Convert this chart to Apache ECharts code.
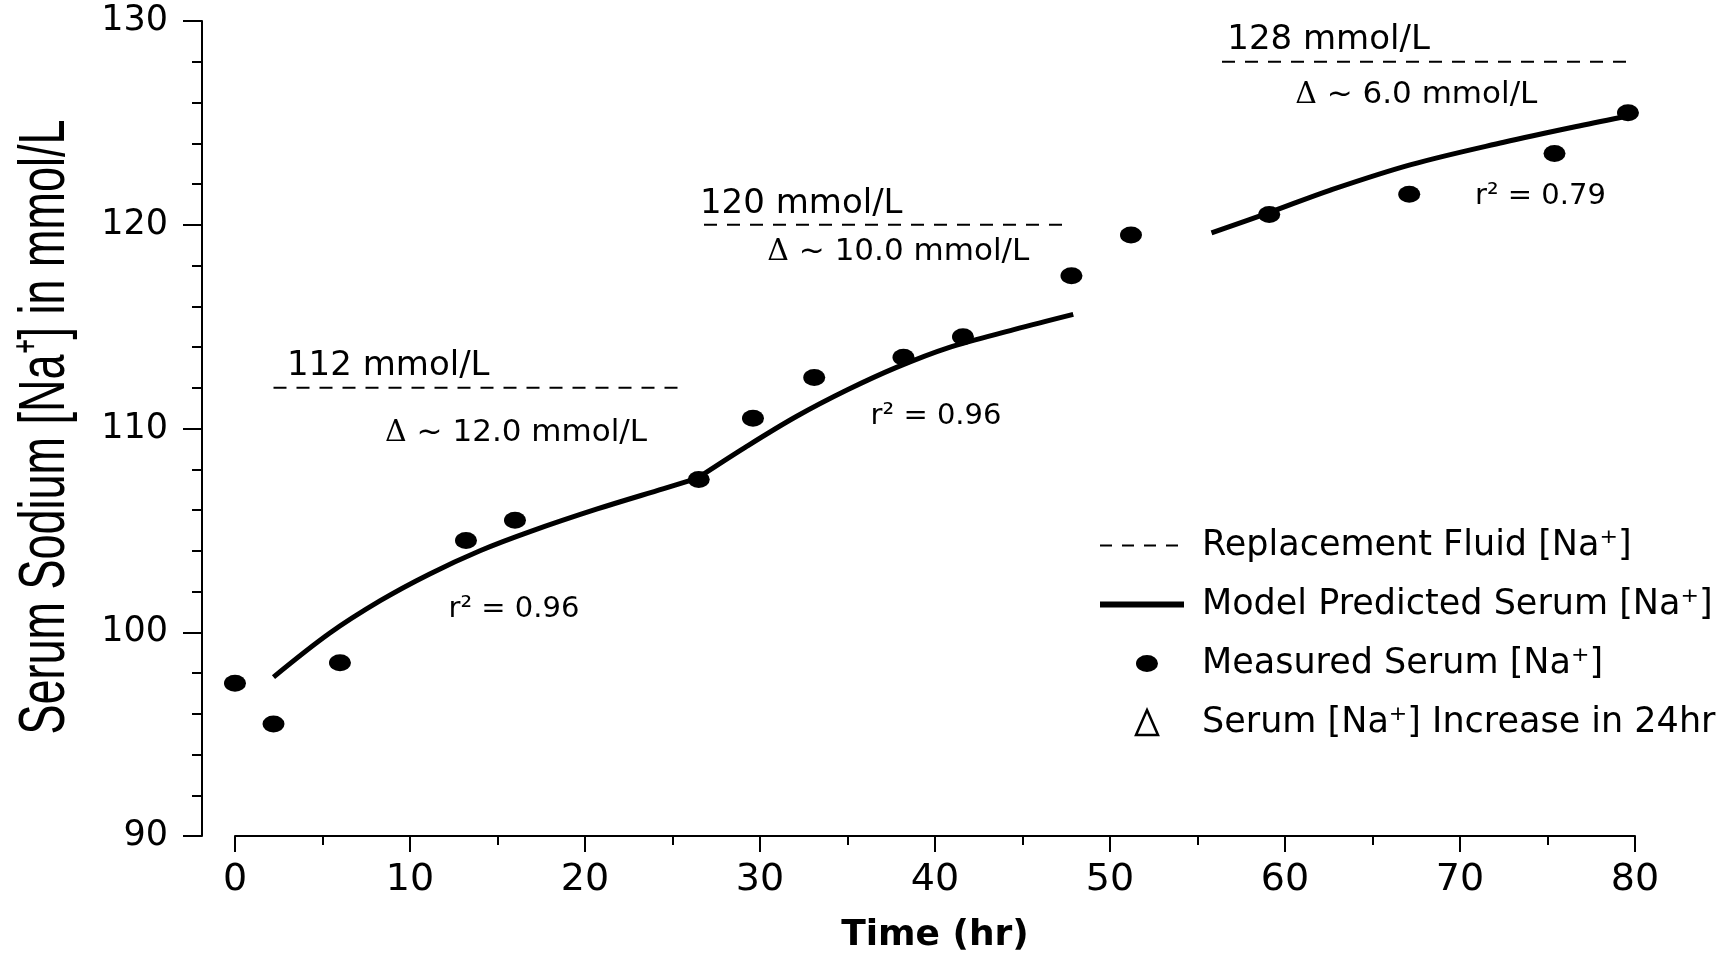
<!DOCTYPE html>
<html>
<head>
<meta charset="utf-8">
<title>Serum Sodium vs Time</title>
<script src="https://cdn.jsdelivr.net/npm/echarts@6.0.0/dist/echarts.min.js"></script>
<style>
html, body { margin: 0; padding: 0; background: #fff; }
#chart { width: 1723px; height: 953px; }
</style>
</head>
<body>
<div id="chart"></div>
<script>
// measured serum sodium
var measuredTime = [0, 2.2, 6, 13.2, 16, 26.5, 29.6, 33.1, 38.2, 41.6, 47.8, 51.2, 59.1, 67.1, 75.4, 79.6];
var measuredNa = [97.5, 95.5, 98.5, 104.5, 105.5, 107.5, 110.5, 112.5, 113.5, 114.5, 117.5, 119.5, 120.5, 121.5, 123.5, 125.5];

// model predicted serum sodium, one curve per replacement fluid
var model1Time = [2.2, 5.4, 8.3, 11.1, 14.0, 16.9, 20.7, 24.5, 26.4];
var model1Na = [97.8, 99.95, 101.55, 102.85, 104.0, 104.95, 106.05, 107.05, 107.55];
var model2Time = [26.4, 29.2, 32.1, 35.0, 37.8, 40.7, 44.5, 47.9];
var model2Na = [107.55, 109.1, 110.6, 111.9, 113.0, 113.95, 114.85, 115.6];
var model3Time = [55.8, 59.1, 62.6, 67.2, 72.5, 76.8, 79.7];
var model3Na = [119.6, 120.6, 121.7, 122.95, 124.05, 124.85, 125.35];

// replacement fluid sodium and the period it covers
var fluidNa = [112, 120, 128];
var fluidStart = [2.2, 26.8, 56.4];
var fluidEnd = [25.6, 47.6, 79.6];

// annotation texts
var fluidLabels = ['112 mmol/L', '120 mmol/L', '128 mmol/L'];
var deltaLabels = ['{d|Δ} ~ 12.0 mmol/L', '{d|Δ} ~ 10.0 mmol/L', '{d|Δ} ~ 6.0 mmol/L'];
var r2Labels = ['r² = 0.96', 'r² = 0.96', 'r² = 0.79'];

var legendNames = ['Replacement Fluid [Na⁺]', 'Model Predicted Serum [Na⁺]', 'Measured Serum [Na⁺]', 'Serum [Na⁺] Increase in 24hr'];

// where the annotations sit, in data units
var fluidLabelAt = [[2.97, 113.05], [26.57, 121.02], [56.7, 129.05]];
var deltaLabelAt = [[16.06, 109.78], [37.9, 118.65], [67.5, 126.35]];
var r2LabelAt = [[15.94, 101.1], [40.06, 110.57], [74.6, 121.4]];

function pairs(xs, ys) {
    return xs.map(function (x, i) { return [x, ys[i]]; });
}

var font = 'DejaVu Sans';
var ink = '#000';
var clear = 'rgba(0,0,0,0)';

var series = [];
fluidNa.forEach(function (v, i) {
    series.push({
        name: legendNames[0],
        type: 'line',
        symbol: 'none',
        silent: true,
        data: [[fluidStart[i], v], [fluidEnd[i], v]],
        itemStyle: { color: ink },
        lineStyle: { color: ink, width: 2, type: [13, 10] }
    });
});
[[model1Time, model1Na], [model2Time, model2Na], [model3Time, model3Na]].forEach(function (m) {
    series.push({
        name: legendNames[1],
        type: 'line',
        symbol: 'none',
        smooth: 0.35,
        silent: true,
        data: pairs(m[0], m[1]),
        itemStyle: { color: ink },
        lineStyle: { color: ink, width: 5 }
    });
});
series.push({
    name: legendNames[2],
    type: 'scatter',
    symbol: 'circle',
    symbolSize: [22, 17],
    silent: true,
    z: 5,
    itemStyle: { color: ink, opacity: 1 },
    data: pairs(measuredTime, measuredNa)
});
series.push({
    name: legendNames[3],
    type: 'scatter',
    itemStyle: { color: ink, opacity: 1 },
    data: []
});

var notes = [];
fluidLabels.forEach(function (t, i) {
    notes.push({ value: fluidLabelAt[i], label: { formatter: t, position: 'right', distance: 0, fontSize: 34 } });
});
deltaLabels.forEach(function (t, i) {
    notes.push({ value: deltaLabelAt[i], label: { formatter: t, position: 'inside', fontSize: 31 } });
});
r2Labels.forEach(function (t, i) {
    notes.push({ value: r2LabelAt[i], label: { formatter: t, position: 'inside', fontSize: 29 } });
});
series.push({
    name: 'notes',
    type: 'scatter',
    symbolSize: 0,
    silent: true,
    itemStyle: { opacity: 1 },
    data: notes,
    label: {
        show: true,
        color: ink,
        opacity: 1,
        fontFamily: font,
        rich: { d: { fontFamily: 'DejaVu Serif', fontSize: 30, color: ink } }
    }
});

// legend icons: padded on the left so that the mark sits centred under the line samples
var dotIcon = 'path://M-10,0L-10,0.01M-10,25L-10,25.01M0,12.5A11,8.5,0,1,1,22,12.5A11,8.5,0,1,1,0,12.5Z';
var deltaIcon = 'path://M-10,0L-10,0.01M11,0L22,25L0,25Z';
var noSymbol = { color: clear, borderColor: clear, borderWidth: 0 };

var chart = echarts.init(document.getElementById('chart'));
chart.setOption({
    animation: false,
    backgroundColor: '#fff',
    color: [ink],
    grid: { left: 235, right: 88, top: 21, bottom: 117, containLabel: false, outerBoundsMode: 'none' },
    xAxis: {
        type: 'value',
        min: 0,
        max: 80,
        interval: 10,
        axisLine: { show: true, onZero: false, lineStyle: { color: ink, width: 2 } },
        axisTick: { show: true, length: 16, lineStyle: { color: ink, width: 2 } },
        minorTick: { show: true, splitNumber: 2, length: 9, lineStyle: { color: ink, width: 2 } },
        splitLine: { show: false },
        axisLabel: { fontFamily: font, fontSize: 38, color: ink, margin: 25 },
        name: 'Time (hr)',
        nameLocation: 'middle',
        nameGap: 82,
        nameMoveOverlap: false,
        nameTextStyle: { fontFamily: font, fontWeight: 'bold', fontSize: 36, color: ink }
    },
    yAxis: {
        type: 'value',
        min: 90,
        max: 130,
        interval: 10,
        offset: 33,
        axisLine: { show: true, onZero: false, lineStyle: { color: ink, width: 2 } },
        axisTick: { show: true, length: 19, lineStyle: { color: ink, width: 2 } },
        minorTick: { show: true, splitNumber: 5, length: 10, lineStyle: { color: ink, width: 2 } },
        splitLine: { show: false },
        axisLabel: { fontFamily: font, fontSize: 35, color: ink, margin: 34 }
    },
    legend: {
        orient: 'vertical',
        left: 1092,
        top: 523,
        itemWidth: 84,
        itemHeight: 25,
        itemGap: 24,
        selectedMode: false,
        textStyle: { fontFamily: font, fontSize: 35, color: ink, padding: [0, 0, 0, 13] },
        data: [
            { name: legendNames[0], itemStyle: noSymbol, lineStyle: { color: ink, width: 2, type: [12, 10] } },
            { name: legendNames[1], itemStyle: noSymbol, lineStyle: { color: ink, width: 6, type: 'solid' } },
            { name: legendNames[2], icon: dotIcon, itemStyle: { color: ink, borderWidth: 0, opacity: 1 } },
            { name: legendNames[3], icon: deltaIcon, itemStyle: { color: clear, borderColor: ink, borderWidth: 2.5 } }
        ]
    },
    graphic: [{
        type: 'text',
        x: 46,
        y: 427,
        rotation: Math.PI / 2,
        scaleY: 1.45,
        style: {
            text: 'Serum Sodium [Na⁺] in mmol/L',
            font: '45px "Liberation Sans"',
            fill: ink,
            textAlign: 'center',
            textVerticalAlign: 'middle',
            align: 'center',
            verticalAlign: 'middle'
        }
    }],
    series: series
});
</script>
</body>
</html>
